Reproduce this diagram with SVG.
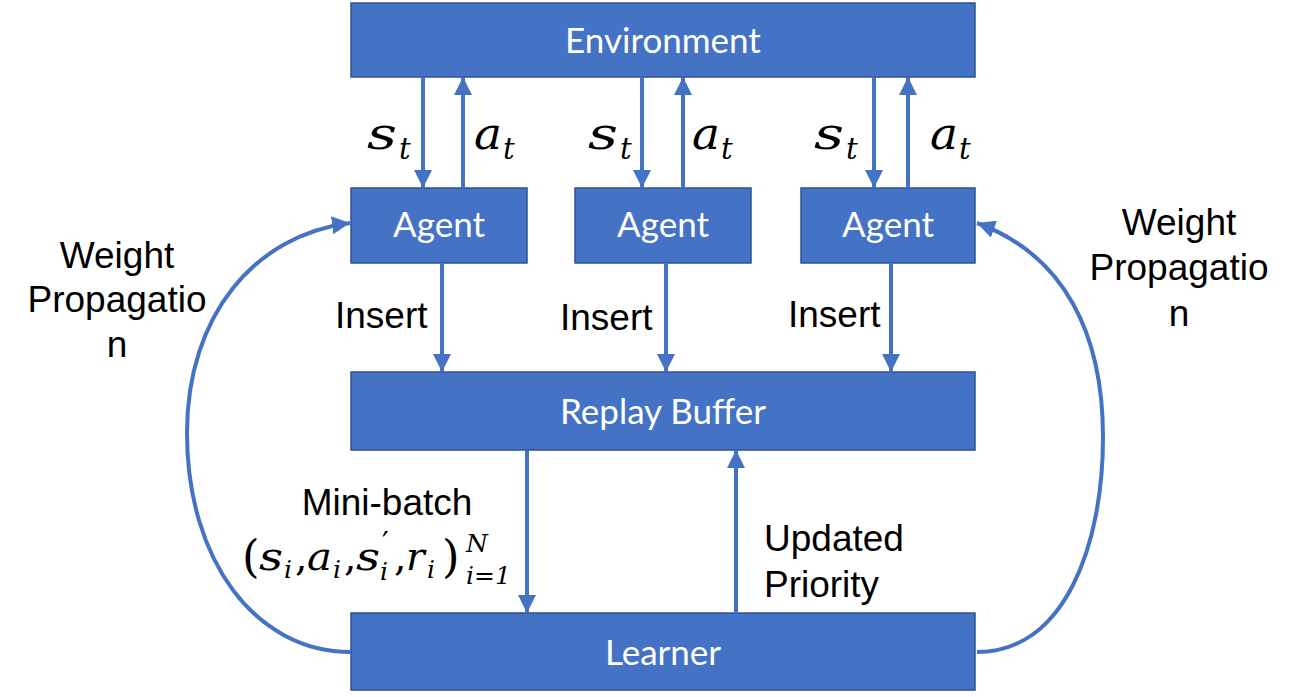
<svg xmlns="http://www.w3.org/2000/svg" width="1293" height="697" viewBox="0 0 1293 697">
<style>
.box{fill:#4472C4;stroke:#2F528F;stroke-width:1.5}
.bt{fill:#fff;font-family:Lato,"Open Sans",sans-serif;font-size:35px;text-anchor:middle}
.lbl{fill:#000;font-family:"Liberation Sans",Arial,sans-serif;font-size:37px}
.m{fill:#000;font-family:"DejaVu Serif","Liberation Serif",serif;font-style:italic;font-size:45px}
.ms{fill:#000;font-family:"DejaVu Serif","Liberation Serif",serif;font-style:italic;font-size:29px}
.fm{fill:#000;font-family:"DejaVu Serif","Liberation Serif",serif;font-style:italic;font-size:39px}
.fu{fill:#000;font-family:"DejaVu Serif","Liberation Serif",serif;font-size:39px}
.fp{fill:#000;font-family:"DejaVu Serif","Liberation Serif",serif;font-size:45px}
.fs{fill:#000;font-family:"DejaVu Serif","Liberation Serif",serif;font-style:italic;font-size:25px}
.fsu{fill:#000;font-family:"DejaVu Serif","Liberation Serif",serif;font-size:25px}
.c{fill:none;stroke:#4472C4;stroke-width:4}
</style>
<defs>
<marker id="ah" markerUnits="userSpaceOnUse" markerWidth="20" markerHeight="18" refX="18" refY="9" orient="auto">
<path d="M0,0 L18,9 L0,18 z" fill="#4472C4"/>
</marker>
</defs>
<rect width="1293" height="697" fill="#fff"/>
<g id="environment"><rect class="box" x="351" y="3" width="624" height="74"/><text class="bt" x="663" y="53">Environment</text></g>
<g id="agent1"><rect class="box" x="351" y="188" width="176" height="75"/><text class="bt" x="439" y="237">Agent</text></g>
<g id="agent2"><rect class="box" x="575" y="188" width="176" height="75"/><text class="bt" x="663" y="237">Agent</text></g>
<g id="agent3"><rect class="box" x="801" y="188" width="174" height="75"/><text class="bt" x="888" y="237">Agent</text></g>
<g id="replay"><rect class="box" x="351" y="372" width="624" height="78"/><text class="bt" x="663" y="424">Replay Buffer</text></g>
<g id="learner"><rect class="box" x="351" y="613" width="624" height="77"/><text class="bt" x="663" y="665">Learner</text></g>
<g id="connectors">
<line class="c" x1="423" y1="77" x2="423" y2="188" marker-end="url(#ah)"/>
<line class="c" x1="463" y1="188" x2="463" y2="77" marker-end="url(#ah)"/>
<line class="c" x1="642" y1="77" x2="642" y2="188" marker-end="url(#ah)"/>
<line class="c" x1="683" y1="188" x2="683" y2="77" marker-end="url(#ah)"/>
<line class="c" x1="874" y1="77" x2="874" y2="188" marker-end="url(#ah)"/>
<line class="c" x1="908" y1="188" x2="908" y2="77" marker-end="url(#ah)"/>
<line class="c" x1="442" y1="263" x2="442" y2="372" marker-end="url(#ah)"/>
<line class="c" x1="666" y1="263" x2="666" y2="372" marker-end="url(#ah)"/>
<line class="c" x1="891" y1="263" x2="891" y2="372" marker-end="url(#ah)"/>
<line class="c" x1="527" y1="450" x2="527" y2="613" marker-end="url(#ah)"/>
<line class="c" x1="736" y1="613" x2="736" y2="450" marker-end="url(#ah)"/>
<path class="c" d="M351,652 C255,652 187,560 187,433 C187,315 255,235 350,223" marker-end="url(#ah)"/>
<path class="c" d="M977,652 C1065,652 1103,545 1103,437 C1103,335 1065,255 977,223" marker-end="url(#ah)"/>
</g>
<g id="labels">
<text class="m" x="367" y="149" textLength="30" lengthAdjust="spacingAndGlyphs">s</text><text class="ms" x="399" y="159">t</text>
<text class="m" x="474" y="149" textLength="28" lengthAdjust="spacingAndGlyphs">a</text><text class="ms" x="503" y="159">t</text>
<text class="m" x="588" y="149" textLength="30" lengthAdjust="spacingAndGlyphs">s</text><text class="ms" x="620" y="159">t</text>
<text class="m" x="692" y="149" textLength="28" lengthAdjust="spacingAndGlyphs">a</text><text class="ms" x="721" y="159">t</text>
<text class="m" x="814" y="149" textLength="30" lengthAdjust="spacingAndGlyphs">s</text><text class="ms" x="846" y="159">t</text>
<text class="m" x="930" y="149" textLength="28" lengthAdjust="spacingAndGlyphs">a</text><text class="ms" x="959" y="159">t</text>
<text class="lbl" x="335" y="328">Insert</text>
<text class="lbl" x="560" y="330">Insert</text>
<text class="lbl" x="788" y="327">Insert</text>
<text class="lbl" x="117" y="268" text-anchor="middle">Weight</text>
<text class="lbl" x="117" y="312" text-anchor="middle">Propagatio</text>
<text class="lbl" x="117" y="357" text-anchor="middle">n</text>
<text class="lbl" x="1179" y="235" text-anchor="middle">Weight</text>
<text class="lbl" x="1179" y="280" text-anchor="middle">Propagatio</text>
<text class="lbl" x="1179" y="326" text-anchor="middle">n</text>
<text class="lbl" x="387" y="515" text-anchor="middle">Mini-batch</text>
<text class="fp" x="242" y="572">(</text>
<text class="fm" x="259" y="570" textLength="24" lengthAdjust="spacingAndGlyphs">s</text><text class="fs" x="284" y="578">i</text>
<text class="fu" x="295" y="570">,</text>
<text class="fm" x="307" y="570" textLength="25" lengthAdjust="spacingAndGlyphs">a</text><text class="fs" x="333" y="578">i</text>
<text class="fu" x="344" y="570">,</text>
<text class="fm" x="356" y="570" textLength="24" lengthAdjust="spacingAndGlyphs">s</text><text class="fsu" x="382" y="553" style="font-size:30px">′</text><text class="fs" x="380" y="580">i</text>
<text class="fu" x="394" y="570">,</text>
<text class="fm" x="406" y="570">r</text><text class="fs" x="427" y="578">i</text>
<text class="fp" x="442" y="572">)</text>
<text class="fs" x="466" y="552">N</text>
<text class="fs" x="466" y="584">i<tspan class="fsu">=1</tspan></text>
<text class="lbl" x="764" y="551">Updated</text>
<text class="lbl" x="764" y="597">Priority</text>
</g>
</svg>
